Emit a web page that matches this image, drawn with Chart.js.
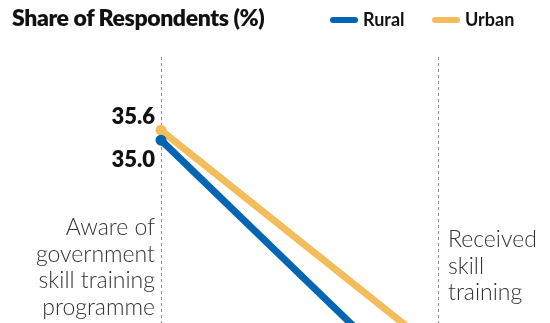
<!DOCTYPE html>
<html>
<head>
<meta charset="utf-8">
<script src="https://cdn.jsdelivr.net/npm/chart.js@4"></script>
<style>
  html, body { margin: 0; padding: 0; background: #fff; overflow: hidden; }
  #wrap { position: relative; width: 550px; height: 323px; }
  #grafico { position: absolute; left: 0; top: 0; }
  .titulo { position: absolute; left: 12px; top: 3px; font: 800 23px Lato, "Noto Sans", sans-serif; color: #111; letter-spacing: -0.4px; }
  .legenda { position: absolute; top: 8px; font: bold 18px Lato, "Noto Sans", sans-serif; color: #111; }
  .legenda span.marca { position: absolute; top: 9px; width: 28px; height: 6px; border-radius: 3px; }
  .rotulo { position: absolute; font: 300 23px Lato, "Open Sans", sans-serif; color: #333; line-height: 26.7px; }
</style>
</head>
<body>
<div id="wrap">
  <canvas id="grafico" width="550" height="323"></canvas>
  <div class="titulo">Share of Respondents (%)</div>
  <div class="legenda" id="legenda"></div>
  <div class="rotulo" id="rotuloEsq" style="right: 395px; top: 213px; text-align: right;"></div>
  <div class="rotulo" id="rotuloDir" style="left: 448px; top: 225px; text-align: left;"></div>
</div>
<script>
// ===== DADOS =====
const categorias = ['Aware of government skill training programme', 'Received skill training'];
const linhasRotulos = [
    ['Aware of', 'government', 'skill training', 'programme'],
    ['Received', 'skill', 'training']
];
const series = ['Rural', 'Urban'];
const valoresRural = [35.0, 18.9];
const valoresUrban = [35.6, 22.3];
const cores = ['#0465b2', '#f3bd5c'];

// ===== LEGENDA E ROTULOS (HTML) =====
const legenda = document.getElementById('legenda');
const posLegenda = [330, 432];
series.forEach((nome, i) => {
    const item = document.createElement('div');
    item.className = 'legenda';
    item.style.left = posLegenda[i] + 'px';
    item.style.top = '0px';
    item.innerHTML = `<span class="marca" style="left:0;background:${cores[i]}"></span><span style="position:absolute;left:33px;top:0;">${nome}</span>`;
    legenda.appendChild(item);
});
document.getElementById('rotuloEsq').innerHTML = linhasRotulos[0].join('<br>');
document.getElementById('rotuloDir').innerHTML = linhasRotulos[1].join('<br>');

// ===== ROTULOS DE VALOR =====
const rotulosValor = {
    id: 'rotulosValor',
    afterDatasetsDraw(chart) {
        const ctx = chart.ctx;
        ctx.save();
        ctx.font = '800 22px Lato, "Noto Sans", sans-serif';
        ctx.fillStyle = '#111';
        ctx.textAlign = 'right';
        ctx.textBaseline = 'alphabetic';
        chart.data.datasets.forEach((ds, i) => {
            const pt = chart.getDatasetMeta(i).data[0];
            // urban acima, rural abaixo
            const dy = ds.label === 'Urban' ? -6 : 27;
            ctx.fillText(ds.data[0].toFixed(1), pt.x - 6, pt.y + dy);
        });
        ctx.restore();
    }
};

// ===== GRAFICO =====
const yMax = 40.0;
const pxPorUnidade = 266 / 16; // escala do original

const ctx = document.getElementById('grafico').getContext('2d');
const grafico = new Chart(ctx, {
    type: 'line',
    data: {
        labels: categorias,
        datasets: [
            { label: 'Rural', data: valoresRural, borderColor: cores[0], backgroundColor: cores[0],
              borderWidth: 7, pointRadius: 5.5, pointHoverRadius: 5.5, pointBorderWidth: 0, clip: false },
            { label: 'Urban', data: valoresUrban, borderColor: cores[1], backgroundColor: cores[1],
              borderWidth: 7, pointRadius: 5.5, pointHoverRadius: 5.5, pointBorderWidth: 0, clip: false }
        ]
    },
    options: {
        responsive: false,
        animation: false,
        layout: { autoPadding: false, padding: { left: 161, right: 112, top: 57, bottom: 0 } },
        plugins: {
            legend: { display: false },
            tooltip: { enabled: false }
        },
        scales: {
            x: {
                offset: false,
                grid: { color: '#8a8a8a', lineWidth: 1, drawTicks: false },
                border: { display: false, dash: [3, 3] },
                ticks: { display: false }
            },
            y: {
                display: false,
                min: 24.0,
                max: yMax
            }
        }
    },
    plugins: [rotulosValor]
});

// se a área do gráfico não chegar ao fundo, ajusta o mínimo para manter a escala
const area = grafico.chartArea;
const minCorreto = yMax - (area.bottom - area.top) / pxPorUnidade;
if (Math.abs(minCorreto - grafico.options.scales.y.min) > 0.01) {
    grafico.options.scales.y.min = minCorreto;
    grafico.update();
}
</script>
</body>
</html>
